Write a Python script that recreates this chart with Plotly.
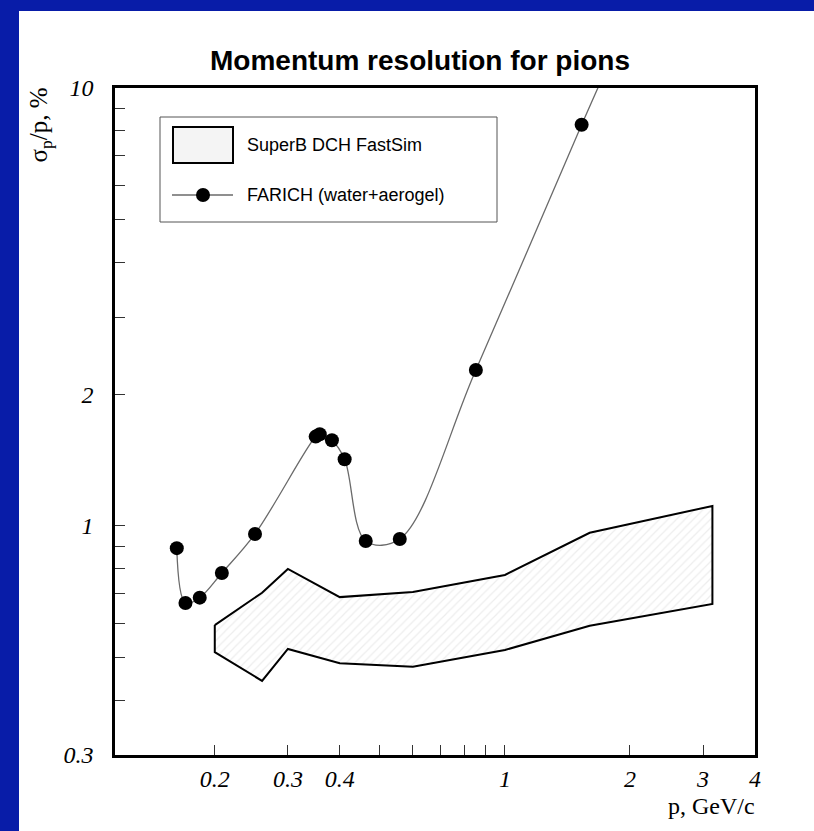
import numpy as np
import plotly.graph_objects as go

# ---------------- data ----------------
# FARICH (water+aerogel): momentum p [GeV/c] and resolution sigma_p/p [%]
farich_p = [0.162, 0.170, 0.184, 0.208, 0.250, 0.350, 0.358, 0.383, 0.411, 0.462, 0.558, 0.851, 1.53, 2.0]
farich_res = [0.89, 0.667, 0.686, 0.781, 0.959, 1.60, 1.62, 1.57, 1.42, 0.924, 0.934, 2.27, 8.24, 14.6]

# SuperB DCH FastSim band: upper and lower edges
band_p = [0.2, 0.26, 0.3, 0.4, 0.6, 1.0, 1.6, 3.16]
band_upper = [0.594, 0.704, 0.798, 0.688, 0.707, 0.773, 0.965, 1.111]
band_lower = [0.515, 0.443, 0.524, 0.486, 0.477, 0.521, 0.592, 0.664]

# axis ticks
x_tickvals = [0.2, 0.3, 0.4, 0.5, 0.6, 0.7, 0.8, 0.9, 1, 2, 3, 4]
x_ticktext = ["0.2", "0.3", "0.4", "", "", "", "", "", "1", "2", "3", "4"]
y_tickvals = [0.3, 0.4, 0.5, 0.6, 0.7, 0.8, 0.9, 1, 2, 3, 4, 5, 6, 7, 8, 9, 10]
y_ticktext = ["0.3", "", "", "", "", "", "", "1", "2", "", "", "", "", "", "", "", "10"]

title_text = "Momentum resolution for pions"
legend_labels = ["SuperB DCH FastSim", "FARICH (water+aerogel)"]

# ---------------- figure ----------------
W, H = 814, 831
L, R, T, B = 115, 59, 88, 76

fig = go.Figure()

poly_x = band_p + band_p[::-1] + [band_p[0]]
poly_y = band_upper + band_lower[::-1] + [band_upper[0]]
fig.add_trace(go.Scatter(
    x=poly_x, y=poly_y, mode="lines", fill="toself",
    fillcolor="white",
    fillpattern=dict(shape="/", fgcolor="#dcdcdc", bgcolor="white", size=6, solidity=0.2),
    line=dict(color="black", width=2),
    name=legend_labels[0], showlegend=False, hoverinfo="skip",
))

fig.add_trace(go.Scatter(
    x=farich_p, y=farich_res, mode="lines+markers",
    line=dict(color="#6a6a6a", width=1.3, shape="spline", smoothing=1.0),
    marker=dict(color="black", size=14),
    name=legend_labels[1], showlegend=False,
))

serif = "Liberation Serif"
sans = "Liberation Sans"

fig.update_xaxes(
    type="log", range=[np.log10(0.115), np.log10(4.002)],
    tickvals=x_tickvals, ticktext=x_ticktext,
    ticks="inside", ticklen=10, tickwidth=1, tickcolor="#333",
    showline=True, linecolor="black", linewidth=2.5, mirror=True,
    showgrid=False, zeroline=False,
    tickfont=dict(family=serif, size=24, color="black", style="italic"),
    ticklabelstandoff=0,
)
fig.update_yaxes(
    type="log", range=[np.log10(0.3), np.log10(10.0)],
    tickvals=y_tickvals, ticktext=y_ticktext,
    ticks="inside", ticklen=10, tickwidth=1, tickcolor="#333",
    showline=True, linecolor="black", linewidth=2.5, mirror=True,
    showgrid=False, zeroline=False,
    tickfont=dict(family=serif, size=24, color="black", style="italic"),
    ticklabelstandoff=14,
)

def px_x(px):
    return (px - L) / (W - L - R)

def px_y(py):
    return (H - B - py) / (H - T - B)

blue = "rgb(8,28,168)"
shapes = [
    # blue slide border (left and top)
    dict(type="rect", xref="paper", yref="paper", x0=px_x(-10), x1=px_x(19), y0=px_y(H + 10), y1=px_y(-10),
         fillcolor=blue, line=dict(width=0), layer="above"),
    dict(type="rect", xref="paper", yref="paper", x0=px_x(-10), x1=px_x(W + 10), y0=px_y(11), y1=px_y(-10),
         fillcolor=blue, line=dict(width=0), layer="above"),
    # legend box
    dict(type="rect", xref="paper", yref="paper", x0=px_x(160), x1=px_x(497), y0=px_y(222), y1=px_y(117),
         fillcolor="white", line=dict(color="#555", width=1), layer="above"),
    dict(type="rect", xref="paper", yref="paper", x0=px_x(173), x1=px_x(233), y0=px_y(163), y1=px_y(127),
         fillcolor="#f4f4f4", line=dict(color="black", width=2), layer="above"),
    dict(type="line", xref="paper", yref="paper", x0=px_x(172), x1=px_x(233), y0=px_y(195), y1=px_y(195),
         line=dict(color="#6a6a6a", width=1.3), layer="above"),
    dict(type="circle", xref="paper", yref="paper", x0=px_x(196), x1=px_x(210), y0=px_y(202), y1=px_y(188),
         fillcolor="black", line=dict(color="black", width=0), layer="above"),
]

annotations = [
    dict(text="<b>" + title_text + "</b>", xref="paper", yref="paper", x=px_x(420), y=px_y(60),
         xanchor="center", yanchor="middle", showarrow=False,
         font=dict(family=sans, size=28, color="black")),
    dict(text="σ<sub>p</sub>/p, %", xref="paper", yref="paper", x=px_x(40), y=px_y(86),
         xanchor="center", yanchor="top", textangle=-90, showarrow=False,
         font=dict(family=serif, size=25, color="black")),
    dict(text="p, GeV/c", xref="paper", yref="paper", x=px_x(757), y=px_y(806),
         xanchor="right", yanchor="middle", showarrow=False,
         font=dict(family=serif, size=24, color="black")),
    dict(text=legend_labels[0], xref="paper", yref="paper", x=px_x(245), y=px_y(145),
         xanchor="left", yanchor="middle", showarrow=False,
         font=dict(family=sans, size=18, color="black")),
    dict(text=legend_labels[1], xref="paper", yref="paper", x=px_x(245), y=px_y(195),
         xanchor="left", yanchor="middle", showarrow=False,
         font=dict(family=sans, size=18, color="black")),
]

fig.update_layout(
    width=W, height=H,
    margin=dict(l=L, r=R, t=T, b=B, pad=0),
    paper_bgcolor="white", plot_bgcolor="white",
    showlegend=False,
    shapes=shapes, annotations=annotations,
)

fig.write_html("out.html")
